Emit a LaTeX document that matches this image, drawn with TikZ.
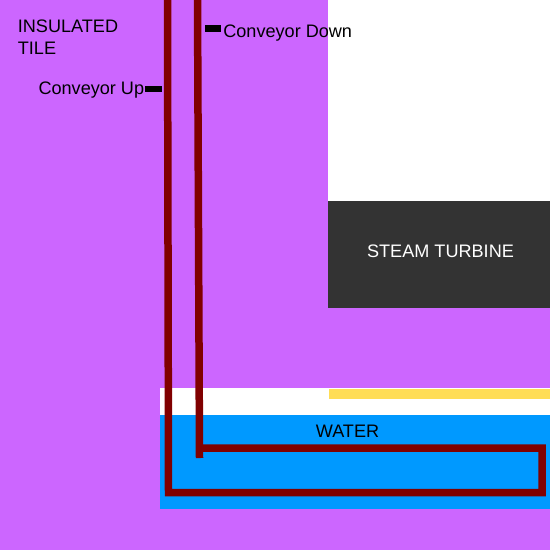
\documentclass[tikz,border=0pt]{standalone}
\usepackage{xcolor}
\usepackage{fontspec}
\setmainfont{Liberation Sans}
\usepackage{tikz}
\definecolor{tile}{HTML}{CC66FF}
\definecolor{agua}{HTML}{0099FF}
\definecolor{amarillo}{HTML}{FFDD55}
\definecolor{turbina}{HTML}{333333}
\definecolor{cinta}{HTML}{800000}
\begin{document}
\begin{tikzpicture}[
  x=0.02cm,y=-0.02cm,
  etiqueta/.style={inner sep=0pt,font=\fontsize{10.3pt}{12pt}\selectfont},
  conveyor/.style={draw=cinta,line width=0.15cm,line join=miter},
  marca/.style={draw=black,line width=0.125cm}
]
  \useasboundingbox (0,0) rectangle (550,550);
  \fill[tile] (0,0) rectangle (550,550);
  \fill[white] (328,0) rectangle (550,201);
  \fill[turbina] (328,201) rectangle (550,308);
  \fill[white] (160,388) rectangle (550,415);
  \fill[amarillo] (329,389) rectangle (550,399);
  \fill[agua] (160,415) rectangle (550,509);
  \node[etiqueta,anchor=north west,align=left,text height=9pt] (tile) at (17.5,38.5) {INSULATED\\[0.6pt]TILE};
  \node[etiqueta,text=white] (turbine) at (440.5,251) {STEAM TURBINE};
  \node[etiqueta] (water) at (347.5,431) {WATER};
  \node[etiqueta,anchor=east] (up) at (144.5,90) {Conveyor Up};
  \node[etiqueta,anchor=west] (down) at (223,33) {Conveyor Down};
  \coordinate (uptop) at (167.5,0);
  \coordinate (upbot) at (168.5,492.5);
  \coordinate (botright) at (542,492.5);
  \coordinate (topright) at (542,448);
  \coordinate (join) at (199.5,448);
  \coordinate (downtop) at (197.5,0);
  \coordinate (downbot) at (199.5,458);
  \coordinate (upstart) at (145,89);
  \coordinate (upmark) at (162,89);
  \coordinate (downmark) at (205,28.5);
  \coordinate (downlabel) at (221,28.5);
  \draw[conveyor] (uptop)--(upbot)--(botright)--(topright)--(join);
  \draw[conveyor] (downtop)--(downbot);
  \draw[marca] (upstart)--(upmark);
  \draw[marca] (downmark)--(downlabel);
\end{tikzpicture}
\end{document}
